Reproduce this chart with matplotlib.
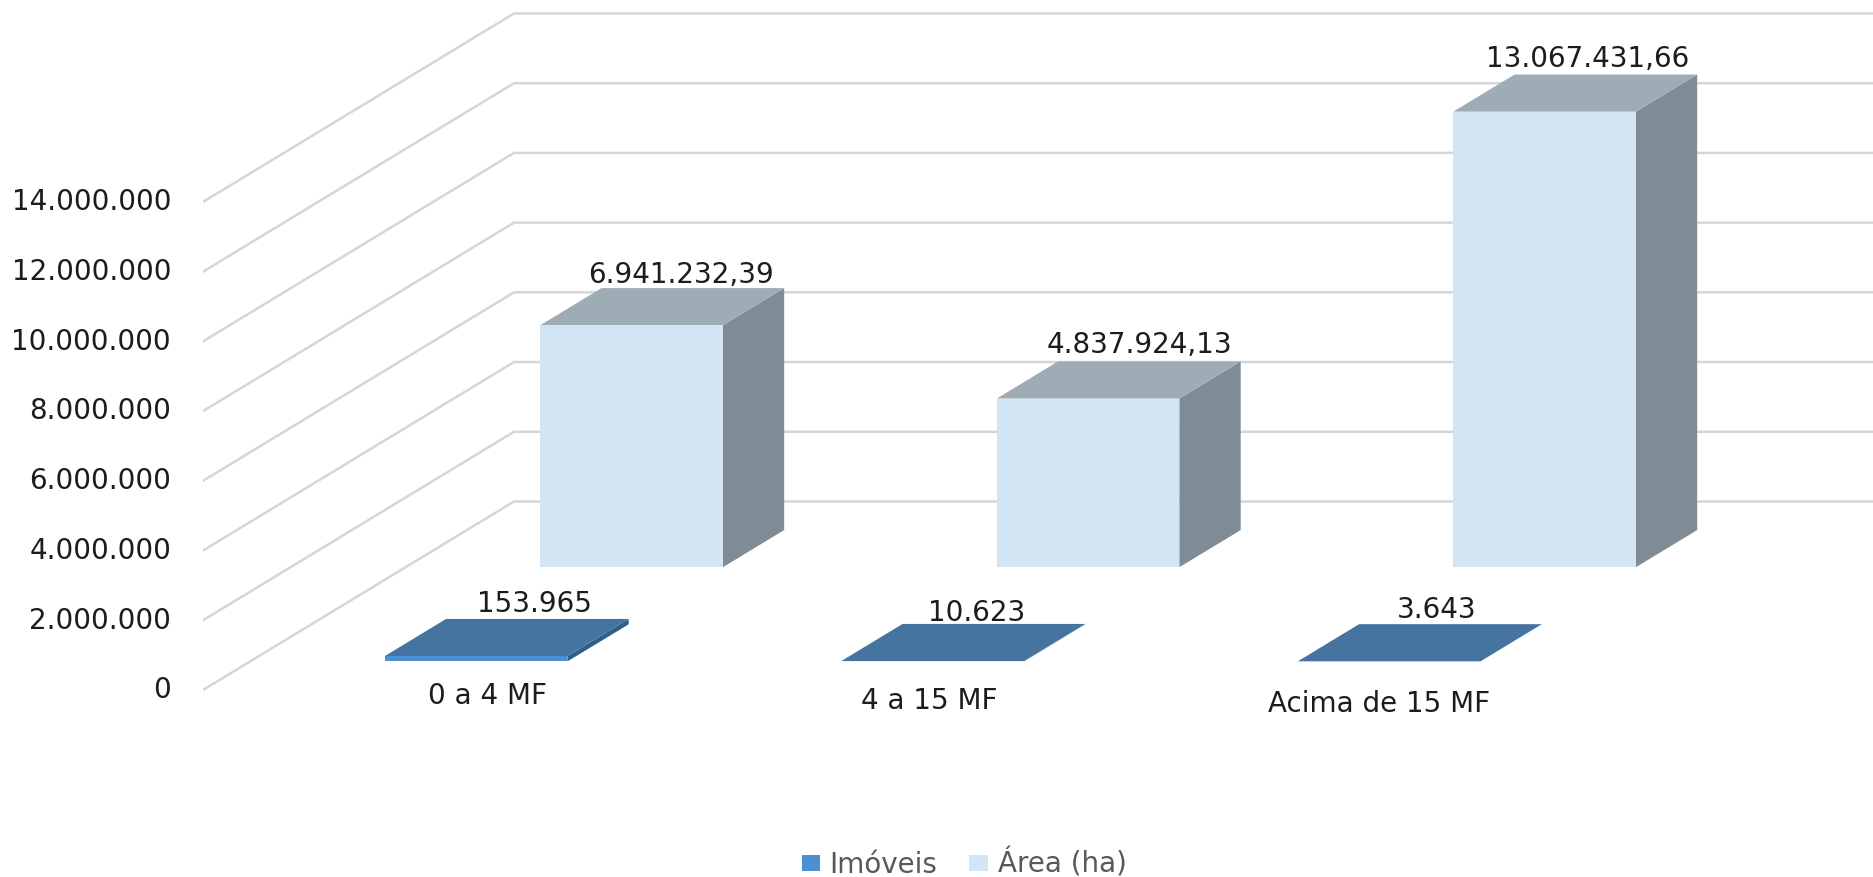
import matplotlib
matplotlib.use("Agg")
import matplotlib.pyplot as plt
from matplotlib.patches import Polygon, Patch
from matplotlib.ticker import FuncFormatter
from matplotlib.transforms import ScaledTranslation

# Data
categories = ["0 a 4 MF", "4 a 15 MF", "Acima de 15 MF"]
imoveis = [153965, 10623, 3643]
area_ha = [6941232.39, 4837924.13, 13067431.66]
imoveis_labels = ["153.965", "10.623", "3.643"]
area_labels = ["6.941.232,39", "4.837.924,13", "13.067.431,66"]
y_ticks = [0, 2000000, 4000000, 6000000, 8000000, 10000000, 12000000, 14000000]

# Oblique projection of the 3D column chart
WIDTH, HEIGHT = 1874, 877
PX_PER_CAT = 456.5
PX_PER_UNIT = 34.86 / 1e6
ZERO_X_PX, ZERO_Y_PX = 429, 690
LEFT_PX = 203
DEPTH_X = 311 / PX_PER_CAT
DEPTH_Y = 188.5 / PX_PER_UNIT
BAR_WIDTH = 0.4
BAR_DEPTH = 0.197


def project(x, y, z):
    return x + z * DEPTH_X, y + z * DEPTH_Y


def column(ax, x, value, row, front, top, side, zorder):
    x0, x1 = x - BAR_WIDTH / 2, x + BAR_WIDTH / 2
    z0, z1 = row - BAR_DEPTH / 2, row + BAR_DEPTH / 2
    faces = [
        ([(x1, 0, z0), (x1, 0, z1), (x1, value, z1), (x1, value, z0)], side),
        ([(x0, value, z0), (x1, value, z0), (x1, value, z1), (x0, value, z1)], top),
        ([(x0, 0, z0), (x1, 0, z0), (x1, value, z0), (x0, value, z0)], front),
    ]
    for corners, colour in faces:
        ax.add_patch(Polygon([project(*c) for c in corners], closed=True,
                             facecolor=colour, edgecolor="none", zorder=zorder))
    return project(x + 0, value, z1), project(x, 0, z0)


plt.rcParams["font.family"] = "DejaVu Sans"
fig = plt.figure(figsize=(WIDTH / 100, HEIGHT / 100), dpi=100)
ax = fig.add_axes([LEFT_PX / WIDTH, 0, 1 - LEFT_PX / WIDTH, 1])
x_left = (LEFT_PX - ZERO_X_PX) / PX_PER_CAT
x_right = (WIDTH - ZERO_X_PX) / PX_PER_CAT
ax.set_xlim(x_left, x_right)
ax.set_ylim(-(HEIGHT - ZERO_Y_PX) / PX_PER_UNIT, ZERO_Y_PX / PX_PER_UNIT)
for spine in ax.spines.values():
    spine.set_visible(False)
ax.set_xticks([])
ax.set_yticks(y_ticks)
ax.yaxis.set_major_formatter(FuncFormatter(lambda v, _: f"{int(v):,}".replace(",", ".")))
ax.tick_params(axis="y", length=0, pad=23, labelsize=20, labelcolor="#1c1c1c")
nudge = ScaledTranslation(0, 2 / 72, fig.dpi_scale_trans)
for tick_label in ax.get_yticklabels():
    tick_label.set_transform(tick_label.get_transform() + nudge)

# Side wall and back wall gridlines
for v in y_ticks:
    pts = [project(x_left, v, 0), project(x_left, v, 1), project(x_right, v, 1)]
    ax.plot([p[0] for p in pts], [p[1] for p in pts], color="#d6d6d6", lw=1.8,
            solid_joinstyle="miter", zorder=1)

TEXT = dict(textcoords="offset pixels", ha="center", va="center",
            fontsize=20, color="#1c1c1c", zorder=10)
area_offsets = [(-12, 13), (-10, 16), (-18, 16)]
imoveis_offsets = [(-3, 15), (-17, 11), (-14, 14)]
category_offsets = [(11, -35), (-3, -40), (-10, -43)]

for i, (value, label) in enumerate(zip(area_ha, area_labels)):
    head, _ = column(ax, i, value, 0.75, "#d3e4f4", "#9eacb6", "#7f8c95", 3)
    ax.annotate(label, head, xytext=area_offsets[i], **TEXT)

for i, (value, label, name) in enumerate(zip(imoveis, imoveis_labels, categories)):
    head, foot = column(ax, i, value, 0.25, "#4a90d2", "#44749f", "#2f5f88", 4)
    ax.annotate(label, head, xytext=imoveis_offsets[i], **TEXT)
    ax.annotate(name, foot, xytext=category_offsets[i], **TEXT)

fig.legend(handles=[Patch(facecolor="#4a90d2", label="Imóveis"),
                    Patch(facecolor="#d3e4f4", label="Área (ha)")],
           loc="center", bbox_to_anchor=(964 / WIDTH, 1 - 864 / HEIGHT), ncol=2,
           frameon=False, fontsize=20, labelcolor="#595959", handlelength=0.65,
           handleheight=0.54, handletextpad=0.36, columnspacing=1.15,
           borderpad=0, borderaxespad=0)

fig.savefig("out.png", dpi=100, facecolor="white")
